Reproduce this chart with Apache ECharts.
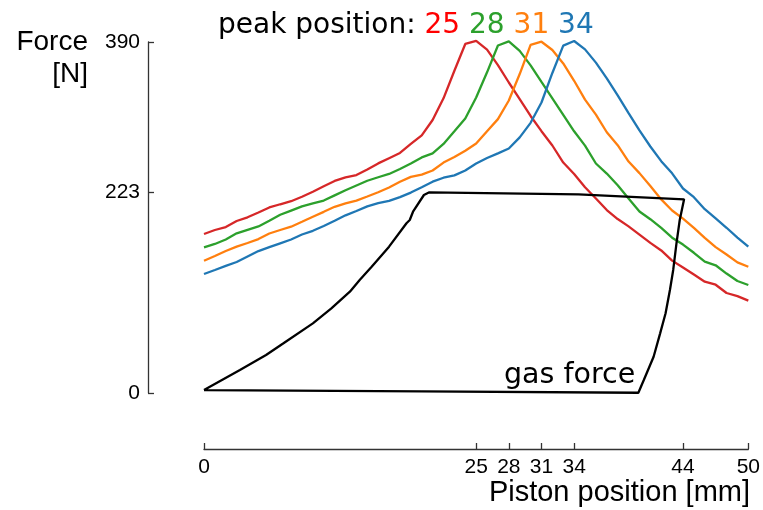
<!DOCTYPE html>
<html>
<head>
<meta charset="utf-8">
<script src="https://cdn.jsdelivr.net/npm/echarts@6/dist/echarts.min.js"></script>
<style>html,body{margin:0;padding:0;background:#fff}#c{width:763px;height:510px}</style>
</head>
<body>
<div id="c"></div>
<script>
// Piston position samples [mm]
var pistonMm = [0,1,2,3,4,5,6,7,8,9,10,11,12,13,14,15,16,17,18,19,20,21,22,23,24,25,26,27,28,29,30,31,32,33,34,35,36,37,38,39,40,41,42,43,44,45,46,47,48,49,50];
// Force curves [N] for peak positions 25, 28, 31, 34 mm
var peak25 = [176.7,181.1,184.4,191.1,195.2,200.6,206.2,209.7,213.1,218.1,223.7,229.7,235.6,239.6,242.2,248.4,255.1,260.9,266.7,276.7,286.3,303.3,327.4,358.1,387.8,391.2,381.6,364.4,345,326.4,307.8,290.9,275,256.1,243.3,228.6,216.1,203.3,193.3,185.1,176,166.8,158.4,147.1,139.4,131.6,123.7,120.3,111.1,107.6,102.6];
var peak28 = [161.9,165.6,170.6,177.4,181.3,185.1,191.4,198,202.7,207.4,210.6,213.8,219.6,225.3,230.6,235.8,239.7,243.4,248.9,255,261.8,266.3,276.7,290.7,304.9,328.3,356.3,386.1,390.7,380.1,364,345.6,327.4,309.1,290.8,274.9,255,243.8,230.9,216.1,201.7,193.1,183.4,172.6,164.9,155.8,146,141.9,132.7,124.4,120];
var peak31 = [147,152.2,157.8,162.7,166.7,171,177.2,181.1,184.8,190.3,195.9,201.3,206.9,210.6,213.8,218.3,223.1,228.4,234.7,240.1,242.7,247.2,256,262.2,269.2,277.2,290.9,304.3,325,354.4,386.9,390.3,381.1,366.2,346.9,325.9,309.3,289.7,275.3,257.2,244.3,230,215.1,202.8,193.7,183.4,172.4,162.1,153.9,145.2,140.3];
var peak34 = [132.2,136.7,141.3,145.6,151.7,157.7,162,166.3,170.6,176.1,180.2,185.6,191.4,197.4,202.2,207.4,210.9,213.4,217.7,222.7,228.7,234.8,239.2,241.8,247.3,255,261.1,266.3,271.6,284,300.2,322.8,355.6,386,391.1,381.8,367.1,349.6,330.7,310.9,291.7,273.9,257.6,244.1,227.2,217.6,204.2,194,183.6,172.7,162.6];
// Gas force loop
var gasX = [0,20,39.9,40.4,41.3,41.9,42.4,42.8,43.1,43.4,43.7,44.1,34.4,20.7,20.2,19.2,18.9,18.6,17.0,15.4,14.3,13.4,11.7,10.0,7.3,5.7,3.3,0];
var gasY = [3.3,1.7,0.3,14.4,40.3,66.3,88.6,114.4,136.7,166.3,192.2,215.2,220.8,223,220,201.4,192.2,188.6,162.6,140.3,125.6,112.6,94.1,77.4,55.2,42.2,25.6,3.3];
// Ticks
var xTicks = [0,25,28,31,34,44,50];
var yTicks = [0,223,390];
var peakLabels = ['25','28','31','34'];

function pairs(xs, ys){ return xs.map(function(x,i){ return [x, ys[i]]; }); }

var colors = ['#d62728','#2ca02c','#ff7f0e','#1f77b4'];
var curves = [peak25, peak28, peak31, peak34];

var series = curves.map(function(c, i){
  return {type:'line', data: pairs(pistonMm, c), showSymbol:false, symbol:'none', clip:false,
    lineStyle:{color:colors[i], width:2.3}, z: 2+i, silent:true};
});
series.push({type:'line', data: pairs(gasX, gasY), showSymbol:false, symbol:'none', clip:false,
  lineStyle:{color:'#000', width:2.3}, z: 10, silent:true});

var lineSt = {show:true, onZero:false, lineStyle:{color:'#333', width:1.3}};
var tickSt = {show:true, inside:true, length:6, lineStyle:{color:'#333', width:1.3}};
var labSt = {color:'#000', fontFamily:'Liberation Sans, Arial, sans-serif', fontSize:21};

var chart = echarts.init(document.getElementById('c'), null, {renderer:'canvas'});
chart.setOption({
  animation:false,
  backgroundColor:'#fff',
  grid:{left:204, right:13, top:42, bottom:117, containLabel:false},
  xAxis:{type:'value', min:0, max:50, offset:56,
    axisLine:lineSt,
    axisTick:Object.assign({}, tickSt, {customValues:xTicks}),
    axisLabel:Object.assign({}, labSt, {customValues:xTicks, margin:8}),
    splitLine:{show:false}},
  yAxis:{type:'value', min:0, max:390, offset:56,
    axisLine:lineSt,
    axisTick:Object.assign({}, tickSt, {customValues:yTicks}),
    axisLabel:Object.assign({}, labSt, {customValues:yTicks, margin:8}),
    splitLine:{show:false}},
  series: series,
  graphic:[
    {type:'text', x:88, y:42, style:{text:'Force', fill:'#000', font:'28px "Liberation Sans", Arial, sans-serif', align:'right', verticalAlign:'middle'}},
    {type:'text', x:88, y:74, style:{text:'[N]', fill:'#000', font:'28px "Liberation Sans", Arial, sans-serif', align:'right', verticalAlign:'middle'}},
    {type:'text', x:750, y:493, style:{text:'Piston position [mm]', fill:'#000', font:'29px "Liberation Sans", Arial, sans-serif', align:'right', verticalAlign:'middle'}},
    {type:'text', x:504, y:376, style:{text:'gas force', fill:'#000', font:'28.5px "DejaVu Sans", sans-serif', align:'left', verticalAlign:'middle'}},
    {type:'text', x:218, y:26, style:{
      text:'{k|peak position: }{a|' + peakLabels[0] + '} {b|' + peakLabels[1] + '} {c|' + peakLabels[2] + '} {d|' + peakLabels[3] + '}',
      font:'28px "DejaVu Sans", sans-serif', align:'left', verticalAlign:'middle',
      rich:{
        k:{fill:'#000', font:'28px "DejaVu Sans", sans-serif'},
        a:{fill:'#ff0000', font:'28px "DejaVu Sans", sans-serif'},
        b:{fill:'#2ca02c', font:'28px "DejaVu Sans", sans-serif'},
        c:{fill:'#ff7f0e', font:'28px "DejaVu Sans", sans-serif'},
        d:{fill:'#1f77b4', font:'28px "DejaVu Sans", sans-serif'}
      }}}
  ]
});
</script>
</body>
</html>
